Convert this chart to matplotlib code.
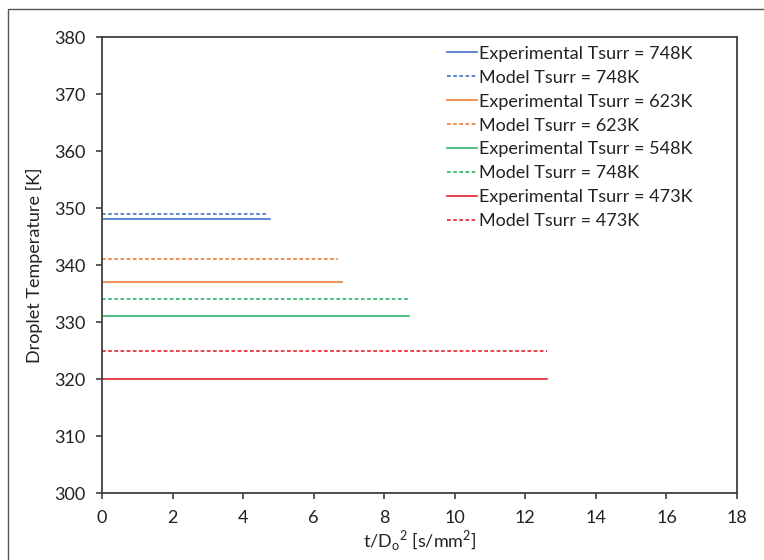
import matplotlib
matplotlib.use("Agg")
import matplotlib.pyplot as plt
from matplotlib.patches import Rectangle

plt.rcParams['font.family'] = ['Lato', 'DejaVu Sans']

# Horizontal temperature plateaus: value [K] and end of record t/Do^2 [s/mm^2]
labels = [
    "Experimental Tsurr = 748K", "Model Tsurr = 748K",
    "Experimental Tsurr = 623K", "Model Tsurr = 623K",
    "Experimental Tsurr = 548K", "Model Tsurr = 748K",
    "Experimental Tsurr = 473K", "Model Tsurr = 473K",
]
temps = [348, 349, 337, 341, 331, 334, 320, 325]
t_end = [4.75, 4.7, 6.8, 6.7, 8.7, 8.7, 12.6, 12.6]
colors = ["#4472C4", "#4472C4", "#ED7D31", "#ED7D31",
          "#2EB36C", "#2EB36C", "#E5222C", "#E5222C"]
dashed = [False, True, False, True, False, True, False, True]

x_ticks = [0, 2, 4, 6, 8, 10, 12, 14, 16, 18]
y_ticks = [300, 310, 320, 330, 340, 350, 360, 370, 380]

fig = plt.figure(figsize=(7.64, 5.6), dpi=100)
ax = fig.add_axes([0.1335, 0.1196, 0.8312, 0.8143])

for lab, T, te, c, d in zip(labels, temps, t_end, colors, dashed):
    if d:
        ax.plot([0, te], [T, T], color=c, lw=1.2, ls=(0, (2.2, 1.5)), label=lab)
    else:
        ax.plot([0, te], [T, T], color=c, lw=1.2, label=lab)

ax.set_xlim(0, 18)
ax.set_ylim(300, 380)
ax.set_xticks(x_ticks)
ax.set_yticks(y_ticks)
ax.tick_params(direction='out', length=4, width=1.2, color='#404040',
               labelsize=13, labelcolor='#222222', pad=8)
for s in ax.spines.values():
    s.set_color('#404040')
    s.set_linewidth(1.3)

ax.set_xlabel(r"t/D$_\mathregular{o}$$^\mathregular{2}$ [s/mm$^\mathregular{2}$]",
              fontsize=13, color='#222222', labelpad=2)
ax.set_ylabel("Droplet Temperature [K]", fontsize=13, color='#222222', labelpad=8)

leg = ax.legend(loc='upper left', bbox_to_anchor=(0.543, 0.981), frameon=False,
                fontsize=13, handlelength=1.65, handletextpad=0.15,
                labelspacing=0.44, borderpad=0, borderaxespad=0)
for t in leg.get_texts():
    t.set_color('#222222')

# thin outer frame around the figure area
fig.patches.append(Rectangle((8 / 764, -0.1), 1.2, 1.1 - 9 / 560,
                             transform=fig.transFigure, fill=False,
                             edgecolor='#555555', lw=1.0, clip_on=False))

fig.savefig("out.png", dpi=100)
